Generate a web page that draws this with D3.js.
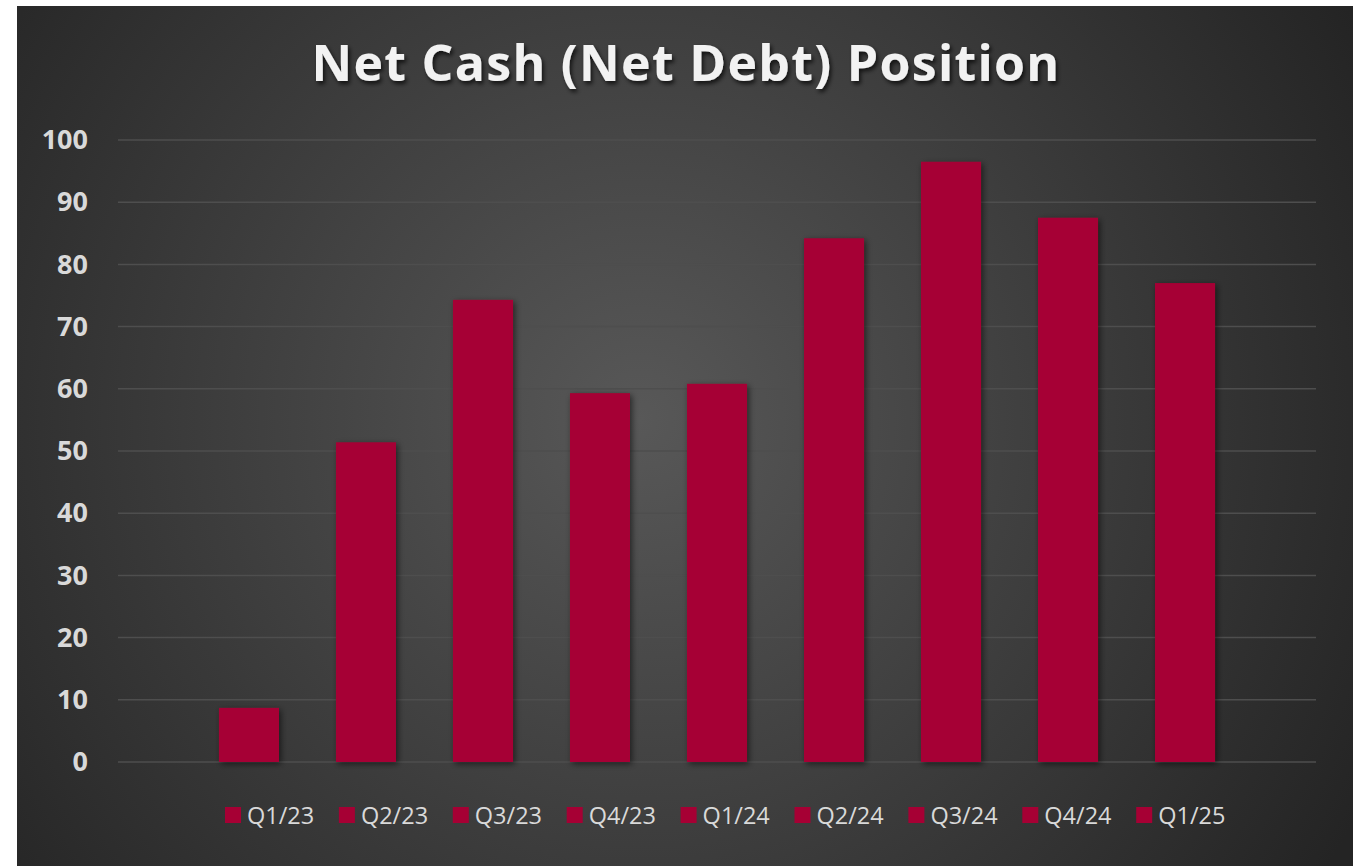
<!DOCTYPE html>
<html>
<head>
<meta charset="utf-8">
<script src="https://cdn.jsdelivr.net/npm/d3@7"></script>
<style>
  html, body { margin: 0; padding: 0; background: #fff; }
  svg { display: block; }
</style>
</head>
<body>
<script>
// quarters shown in the legend, one bar each
const quarters = ["Q1/23", "Q2/23", "Q3/23", "Q4/23", "Q1/24", "Q2/24", "Q3/24", "Q4/24", "Q1/25"];
const netCash = [8.7, 51.4, 74.3, 59.3, 60.8, 84.2, 96.5, 87.5, 77.0];
const yTicks = [0, 10, 20, 30, 40, 50, 60, 70, 80, 90, 100];

const width = 1353, height = 866;
const barColor = "#a60034";
const textColor = "#d9d9d9";

const svg = d3.select("body").append("svg")
    .attr("width", width)
    .attr("height", height);

const defs = svg.append("defs");

// dark background, lighter in the middle
const grad = defs.append("radialGradient")
    .attr("id", "bg")
    .attr("gradientUnits", "userSpaceOnUse")
    .attr("cx", 640).attr("cy", 420).attr("r", 820);
grad.append("stop").attr("offset", "0%").attr("stop-color", "#585858");
grad.append("stop").attr("offset", "100%").attr("stop-color", "#242424");

const shadow = defs.append("filter").attr("id", "shadow")
    .attr("x", "-20%").attr("y", "-20%").attr("width", "140%").attr("height", "140%");
shadow.append("feDropShadow")
    .attr("dx", 2).attr("dy", 2).attr("stdDeviation", 3)
    .attr("flood-color", "#000").attr("flood-opacity", 0.55);

const textShadow = defs.append("filter").attr("id", "tshadow")
    .attr("x", "-10%").attr("y", "-30%").attr("width", "120%").attr("height", "160%");
textShadow.append("feDropShadow")
    .attr("dx", 2).attr("dy", 3).attr("stdDeviation", 2)
    .attr("flood-color", "#000").attr("flood-opacity", 0.7);

svg.append("rect")
    .attr("x", 17).attr("y", 6)
    .attr("width", width - 17).attr("height", height - 6)
    .attr("fill", "url(#bg)");

// title
svg.append("text")
    .attr("x", 686)
    .attr("y", 81)
    .attr("text-anchor", "middle")
    .attr("fill", "#f2f2f2")
    .attr("font-family", "Open Sans")
    .attr("font-weight", "bold")
    .attr("font-size", 50)
    .attr("letter-spacing", 1.3)
    .attr("filter", "url(#tshadow)")
    .text("Net Cash (Net Debt) Position");

const plotLeft = 118, plotRight = 1316, plotTop = 140, plotBottom = 762;

const y = d3.scaleLinear()
    .domain([0, 100])
    .range([plotBottom, plotTop]);

// one category holding nine series -> bars clustered in the middle
const x = d3.scaleBand()
    .domain(quarters)
    .range([plotLeft, plotRight])
    .paddingInner(0.487)
    .paddingOuter(0.863);

// gridlines
svg.append("g")
    .selectAll("line")
    .data(yTicks)
    .enter()
    .append("line")
        .attr("x1", plotLeft)
        .attr("x2", plotRight)
        .attr("y1", d => y(d))
        .attr("y2", d => y(d))
        .attr("stroke", "#4e4e4e")
        .attr("stroke-width", 1.5);

// y axis labels
const yAxis = svg.append("g")
    .attr("transform", `translate(${plotLeft - 30},0)`)
    .call(d3.axisLeft(y).tickValues(yTicks).tickSize(0).tickPadding(0));
yAxis.select(".domain").remove();
yAxis.selectAll("text")
    .attr("fill", textColor)
    .attr("font-family", "Open Sans")
    .attr("font-weight", "bold")
    .attr("font-size", 27);

// bars
svg.append("g")
    .selectAll("rect")
    .data(quarters)
    .enter()
    .append("rect")
        .attr("x", d => x(d))
        .attr("y", (d, i) => y(netCash[i]))
        .attr("width", x.bandwidth())
        .attr("height", (d, i) => y(0) - y(netCash[i]))
        .attr("fill", barColor)
        .attr("filter", "url(#shadow)");

// legend
const legend = svg.append("g")
    .attr("transform", "translate(225,807)");
const item = legend.selectAll("g")
    .data(quarters)
    .enter()
    .append("g")
        .attr("transform", (d, i) => `translate(${i * 113.9},0)`);
item.append("rect")
    .attr("width", 16)
    .attr("height", 16)
    .attr("fill", barColor);
item.append("text")
    .attr("x", 22)
    .attr("y", 16.5)
    .attr("fill", textColor)
    .attr("font-family", "Open Sans")
    .attr("font-size", 23.5)
    .text(d => d);
</script>
</body>
</html>
